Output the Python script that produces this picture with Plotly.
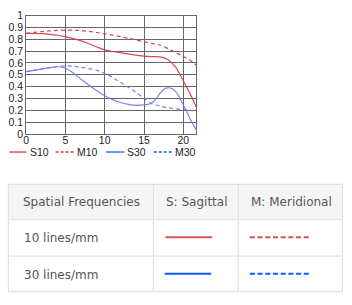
import plotly.graph_objects as go

W, H = 352, 305

# ---- data ----
x_s10 = [0, 1, 2, 3, 4, 5, 6, 7, 8, 9, 10, 11, 12, 13, 14, 15, 16, 17, 18, 19, 20, 21, 21.63]
s10 = [0.850, 0.849, 0.847, 0.842, 0.834, 0.822, 0.806, 0.786, 0.762, 0.735, 0.710, 0.697, 0.687,
       0.676, 0.666, 0.657, 0.653, 0.652, 0.630, 0.567, 0.450, 0.320, 0.228]
x_m10 = [0, 1, 2, 3, 4, 5, 6, 7, 8, 9, 10, 11, 12, 13, 14, 15, 16, 17, 18, 19, 20, 21, 21.63]
m10 = [0.851, 0.858, 0.865, 0.871, 0.876, 0.878, 0.877, 0.873, 0.866, 0.857, 0.846, 0.835, 0.822,
       0.809, 0.795, 0.779, 0.765, 0.752, 0.722, 0.690, 0.655, 0.617, 0.582]
x_s30 = [0, 1, 2, 3, 4, 5, 6, 7, 8, 9, 10, 11, 12, 13, 14, 15, 15.5, 16, 16.5, 17, 17.5, 18, 18.5,
         19, 19.5, 20, 20.5, 21, 21.63]
s30 = [0.526, 0.537, 0.549, 0.560, 0.568, 0.555, 0.515, 0.462, 0.412, 0.365, 0.322, 0.290, 0.266,
       0.250, 0.242, 0.245, 0.250, 0.262, 0.295, 0.340, 0.375, 0.390, 0.385, 0.360, 0.310, 0.245,
       0.180, 0.110, 0.035]
x_m30 = [0, 1, 2, 3, 4, 5, 6, 7, 8, 9, 10, 11, 12, 13, 14, 15, 16, 17, 18, 19, 20, 21, 21.63]
m30 = [0.526, 0.537, 0.549, 0.560, 0.570, 0.575, 0.572, 0.563, 0.552, 0.537, 0.512, 0.478, 0.437,
       0.395, 0.350, 0.300, 0.255, 0.236, 0.222, 0.213, 0.206, 0.200, 0.195]

series_names = ["S10", "M10", "S30", "M30"]
x_ticks = [0, 5, 10, 15, 20]
y_ticks = [0, 0.1, 0.2, 0.3, 0.4, 0.5, 0.6, 0.7, 0.8, 0.9, 1]
y_tick_labels = ["0", "0.1", "0.2", "0.3", "0.4", "0.5", "0.6", "0.7", "0.8", "0.9", "1"]

table_header = ["Spatial Frequencies", "S: Sagittal", "M: Meridional"]
table_rows = ["10 lines/mm", "30 lines/mm"]

# ---- styles ----
RED_CHART = "rgba(208,52,64,0.9)"
BLUE_CHART = "rgba(110,118,240,0.9)"
RED_LEG = "#e03838"
BLUE_LEG = "#1a5cf0"
RED_TAB = "#d9534f"
BLUE_TAB = "#0a5cf5"

def px(x):
    return x / W

def py(y):
    return 1 - y / H

fig = go.Figure()
chart_series = [
    (x_s10, s10, RED_CHART, "solid"),
    (x_m10, m10, RED_CHART, "4px,3px"),
    (x_s30, s30, BLUE_CHART, "solid"),
    (x_m30, m30, BLUE_CHART, "4px,3px"),
]
for name, (xs, ys, col, dash) in zip(series_names, chart_series):
    fig.add_trace(go.Scatter(x=xs, y=ys, mode="lines", name=name, showlegend=False,
                             line=dict(color=col, width=1.2, dash=dash, shape="spline", smoothing=0.8),
                             hoverinfo="skip"))

shapes = []
annotations = []

# manual legend
leg_items = [
    (6.5, 23.5, 25, RED_LEG, "solid"),
    (53, 72, 73, RED_LEG, "dash"),
    (104, 122.5, 123, BLUE_LEG, "solid"),
    (152, 170.5, 171, BLUE_LEG, "dash"),
]
ly = 152
for name, (x0, x1, tx, col, dash) in zip(series_names, leg_items):
    shapes.append(dict(type="line", xref="paper", yref="paper", x0=px(x0), x1=px(x1), y0=py(ly), y1=py(ly),
                       line=dict(color=col, width=1.3, dash="3px,2px" if dash == "dash" else "solid")))
    annotations.append(dict(text=name, xref="paper", yref="paper", x=px(tx), y=py(ly), xanchor="left",
                            yanchor="middle", showarrow=False,
                            font=dict(family="Liberation Sans", size=10.5, color="#222")))

# table
TL, TR, TT, TB = 5.5, 342.3, 185.7, 297.3
row_lines = [222.3, 260.3]
col_lines = [151.7, 237.3]
BORDER = "#e2e2e2"
shapes.append(dict(type="rect", xref="paper", yref="paper", x0=px(TL), x1=px(TR), y0=py(TT), y1=py(row_lines[0]),
                   fillcolor="#f5f5f5", line=dict(width=0), layer="below"))
shapes.append(dict(type="rect", xref="paper", yref="paper", x0=px(TL), x1=px(TR), y0=py(TT), y1=py(TB),
                   fillcolor="rgba(0,0,0,0)", line=dict(color=BORDER, width=1.2)))
for ry in row_lines:
    shapes.append(dict(type="line", xref="paper", yref="paper", x0=px(TL), x1=px(TR), y0=py(ry), y1=py(ry),
                       line=dict(color=BORDER, width=1.2)))
for cx in col_lines:
    shapes.append(dict(type="line", xref="paper", yref="paper", x0=px(cx), x1=px(cx), y0=py(TT), y1=py(TB),
                       line=dict(color=BORDER, width=1.2)))

TFONT = dict(family="DejaVu Sans", size=12, color="#555")
header_x = [18.5, 162.5, 248.5]
for hx, txt in zip(header_x, table_header):
    annotations.append(dict(text=txt, xref="paper", yref="paper", x=px(hx), y=py(204), xanchor="left",
                            yanchor="middle", showarrow=False, font=TFONT))
row_y = [242, 280]
for ryy, txt in zip(row_y, table_rows):
    annotations.append(dict(text=txt, xref="paper", yref="paper", x=px(19), y=py(ryy), xanchor="left",
                            yanchor="middle", showarrow=False, font=TFONT))

samples = [
    (164, 211, 240.8, RED_TAB, "solid"),
    (249, 311, 240.8, RED_TAB, "5px,2.7px"),
    (163, 210, 278.8, BLUE_TAB, "solid"),
    (249, 311, 278.8, BLUE_TAB, "5px,2.7px"),
]
for x0, x1, yy, col, dash in samples:
    shapes.append(dict(type="line", xref="paper", yref="paper", x0=px(x0), x1=px(x1), y0=py(yy), y1=py(yy),
                       line=dict(color=col, width=2, dash=dash)))

GRID = "#666666"
fig.update_layout(
    width=W, height=H,
    margin=dict(l=0, r=0, t=0, b=0),
    paper_bgcolor="white", plot_bgcolor="white",
    showlegend=False,
    xaxis=dict(domain=[px(23.3), px(194.8)], range=[0, 21.63], tickvals=x_ticks,
               ticktext=[str(v) for v in x_ticks], showgrid=True, gridcolor=GRID, gridwidth=1,
               zeroline=False, showline=True, linecolor=GRID, linewidth=1, mirror=True,
               ticks="", ticklen=0, ticklabelstandoff=-4,
               tickfont=dict(family="Liberation Sans", size=10.5, color="#222")),
    yaxis=dict(domain=[py(133.2), py(10)], range=[0, 1], tickvals=y_ticks, ticktext=y_tick_labels,
               showgrid=True, gridcolor=GRID, gridwidth=1, zeroline=False, showline=True, linecolor=GRID,
               linewidth=1, mirror=True, ticks="", ticklen=0,
               tickfont=dict(family="Liberation Sans", size=10.5, color="#222")),
    shapes=shapes, annotations=annotations,
)

fig.write_html("out.html")
